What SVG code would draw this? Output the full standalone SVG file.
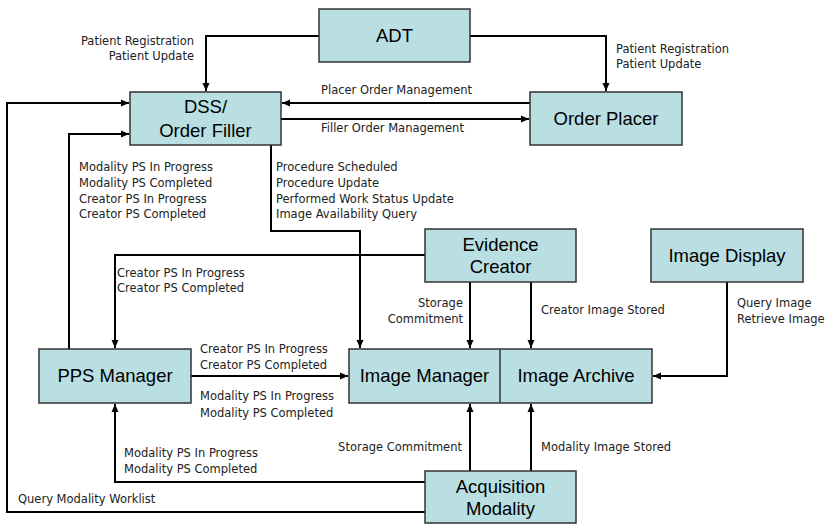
<svg xmlns="http://www.w3.org/2000/svg" width="829" height="525" viewBox="0 0 829 525">
<style>
.box{fill:#B9DFE2;stroke:#333;stroke-width:1.5}
.nt{font-family:"Liberation Sans",Arial,sans-serif;font-size:18.5px;fill:#000;text-anchor:middle}
.lb{font-family:"DejaVu Sans",Verdana,sans-serif;font-size:11.5px;fill:#222}
.r{text-anchor:end}
.ln{fill:none;stroke:#000;stroke-width:2}
</style>
<defs>
<marker id="ah" markerUnits="userSpaceOnUse" markerWidth="9" markerHeight="8" refX="8" refY="4" orient="auto">
<path d="M0,0.5 L8,4 L0,7.5 z" fill="#000"/>
</marker>
</defs>
<rect width="829" height="525" fill="#fff"/>
<g id="connectors">
<path class="ln" d="M319,36 H206 V91" marker-end="url(#ah)"/>
<path class="ln" d="M470,36 H606 V91" marker-end="url(#ah)"/>
<path class="ln" d="M530,103 H282" marker-end="url(#ah)"/>
<path class="ln" d="M281,119 H529" marker-end="url(#ah)"/>
<path class="ln" d="M425,512 H7 V103 H129" marker-end="url(#ah)"/>
<path class="ln" d="M69,349 V134 H129" marker-end="url(#ah)"/>
<path class="ln" d="M271,145 V231 H360 V348" marker-end="url(#ah)"/>
<path class="ln" d="M425,255 H115 V348" marker-end="url(#ah)"/>
<path class="ln" d="M191,376 H348" marker-end="url(#ah)"/>
<path class="ln" d="M470,282 V348" marker-end="url(#ah)"/>
<path class="ln" d="M531,282 V348" marker-end="url(#ah)"/>
<path class="ln" d="M727,282 V376 H653" marker-end="url(#ah)"/>
<path class="ln" d="M470,471 V404" marker-end="url(#ah)"/>
<path class="ln" d="M531,471 V404" marker-end="url(#ah)"/>
<path class="ln" d="M425,482 H115 V404" marker-end="url(#ah)"/>
<text class="lb r" x="194" y="45">Patient Registration</text>
<text class="lb r" x="194" y="60">Patient Update</text>
<text class="lb" x="616" y="53">Patient Registration</text>
<text class="lb" x="616" y="68">Patient Update</text>
<text class="lb" x="321" y="94">Placer Order Management</text>
<text class="lb" x="321" y="132">Filler Order Management</text>
<text class="lb" x="79" y="171">Modality PS In Progress</text>
<text class="lb" x="79" y="187">Modality PS Completed</text>
<text class="lb" x="79" y="203">Creator PS In Progress</text>
<text class="lb" x="79" y="218">Creator PS Completed</text>
<text class="lb" x="276" y="171">Procedure Scheduled</text>
<text class="lb" x="276" y="187">Procedure Update</text>
<text class="lb" x="276" y="203">Performed Work Status Update</text>
<text class="lb" x="276" y="218">Image Availability Query</text>
<text class="lb" x="117" y="277">Creator PS In Progress</text>
<text class="lb" x="117" y="292">Creator PS Completed</text>
<text class="lb r" x="463" y="307">Storage</text>
<text class="lb r" x="463" y="323">Commitment</text>
<text class="lb" x="541" y="314">Creator Image Stored</text>
<text class="lb" x="737" y="307">Query Image</text>
<text class="lb" x="737" y="323">Retrieve Image</text>
<text class="lb" x="200" y="353">Creator PS In Progress</text>
<text class="lb" x="200" y="369">Creator PS Completed</text>
<text class="lb" x="200" y="400">Modality PS In Progress</text>
<text class="lb" x="200" y="417">Modality PS Completed</text>
<text class="lb r" x="462" y="451">Storage Commitment</text>
<text class="lb" x="541" y="451">Modality Image Stored</text>
<text class="lb" x="124" y="457">Modality PS In Progress</text>
<text class="lb" x="124" y="473">Modality PS Completed</text>
<text class="lb" x="18" y="503">Query Modality Worklist</text>
</g>
<g id="adt"><rect class="box" x="319" y="9" width="151" height="53"/><text class="nt" x="394.5" y="42">ADT</text></g>
<g id="dss"><rect class="box" x="130" y="92" width="151" height="53"/><text class="nt" x="205.5" y="113">DSS/</text><text class="nt" x="205.5" y="137">Order Filler</text></g>
<g id="order-placer"><rect class="box" x="530" y="92" width="152" height="53"/><text class="nt" x="606" y="125">Order Placer</text></g>
<g id="evidence-creator"><rect class="box" x="425" y="229" width="151" height="53"/><text class="nt" x="500.5" y="251">Evidence</text><text class="nt" x="500.5" y="273">Creator</text></g>
<g id="image-display"><rect class="box" x="651" y="229" width="152" height="53"/><text class="nt" x="727" y="262">Image Display</text></g>
<g id="pps-manager"><rect class="box" x="39" y="349" width="152" height="54"/><text class="nt" x="115" y="382">PPS Manager</text></g>
<g id="image-manager-archive"><rect class="box" x="349" y="349" width="303" height="54"/><line x1="500" y1="349" x2="500" y2="403" stroke="#333" stroke-width="1.5"/><text class="nt" x="424.5" y="382">Image Manager</text><text class="nt" x="576" y="382">Image Archive</text></g>
<g id="acquisition-modality"><rect class="box" x="425" y="471" width="151" height="52"/><text class="nt" x="500.5" y="493">Acquisition</text><text class="nt" x="500.5" y="515">Modality</text></g>
</svg>
